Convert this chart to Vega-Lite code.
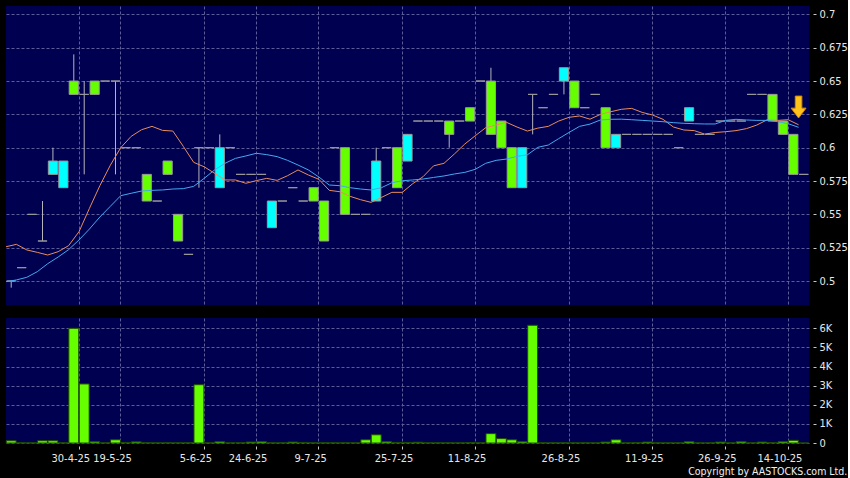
{
  "$schema": "https://vega.github.io/schema/vega-lite/v6.json",
  "background": "#000000",
  "padding": {"left": 4, "top": 6, "right": 0, "bottom": 0},
  "spacing": 13,
  "config": {
    "view": {"fill": "#000050", "stroke": null},
    "font": "DejaVu Sans Condensed, DejaVu Sans",
    "axis": {
      "labelColor": "#e8e8e8",
      "labelFont": "DejaVu Sans Condensed, DejaVu Sans",
      "tickColor": "#c8c8c8",
      "domain": false,
      "title": null,
      "gridColor": "#5c5c98",
      "gridDash": [3, 2],
      "gridWidth": 1,
      "labelOverlap": false
    }
  },
  "title": {
    "text": "Copyright by AASTOCKS.com Ltd.",
    "orient": "bottom",
    "anchor": "end",
    "fontSize": 10.5,
    "fontWeight": "normal",
    "font": "DejaVu Sans Condensed, DejaVu Sans",
    "color": "#f0f0f0",
    "offset": 4
  },
  "datasets": {
    "candles": [
      {"d": "15-4-25", "o": 0.50, "h": 0.50, "l": 0.495, "c": 0.50, "v": 120, "m1": 0.5257, "m2": 0.4995},
      {"d": "16-4-25", "o": 0.51, "h": 0.51, "l": 0.51, "c": 0.51, "v": 10, "m1": 0.5275, "m2": 0.5008},
      {"d": "22-4-25", "o": 0.55, "h": 0.55, "l": 0.55, "c": 0.55, "v": 10, "m1": 0.5233, "m2": 0.5028},
      {"d": "24-4-25", "o": 0.53, "h": 0.56, "l": 0.53, "c": 0.53, "v": 120, "m1": 0.5215, "m2": 0.507},
      {"d": "25-4-25", "o": 0.58, "h": 0.60, "l": 0.58, "c": 0.59, "v": 120, "m1": 0.5195, "m2": 0.513},
      {"d": "29-4-25", "o": 0.57, "h": 0.59, "l": 0.57, "c": 0.59, "v": 10, "m1": 0.522, "m2": 0.518},
      {"d": "30-4-25", "o": 0.65, "h": 0.67, "l": 0.64, "c": 0.64, "v": 6000, "m1": 0.5265, "m2": 0.5235},
      {"d": "2-5-25", "o": 0.64, "h": 0.65, "l": 0.58, "c": 0.64, "v": 3090, "m1": 0.537, "m2": 0.5308},
      {"d": "6-5-25", "o": 0.65, "h": 0.65, "l": 0.64, "c": 0.64, "v": 70, "m1": 0.5545, "m2": 0.539},
      {"d": "12-5-25", "o": 0.65, "h": 0.65, "l": 0.65, "c": 0.65, "v": 10, "m1": 0.5715, "m2": 0.548},
      {"d": "19-5-25", "o": 0.65, "h": 0.65, "l": 0.58, "c": 0.65, "v": 170, "m1": 0.5868, "m2": 0.556},
      {"d": "20-5-25", "o": 0.60, "h": 0.60, "l": 0.60, "c": 0.60, "v": 30, "m1": 0.600, "m2": 0.564},
      {"d": "21-5-25", "o": 0.60, "h": 0.60, "l": 0.60, "c": 0.60, "v": 60, "m1": 0.6085, "m2": 0.5658},
      {"d": "22-5-25", "o": 0.58, "h": 0.58, "l": 0.56, "c": 0.56, "v": 10, "m1": 0.6135, "m2": 0.5675},
      {"d": "26-5-25", "o": 0.56, "h": 0.56, "l": 0.56, "c": 0.56, "v": 10, "m1": 0.616, "m2": 0.568},
      {"d": "27-5-25", "o": 0.59, "h": 0.59, "l": 0.58, "c": 0.58, "v": 10, "m1": 0.613, "m2": 0.5683},
      {"d": "29-5-25", "o": 0.55, "h": 0.55, "l": 0.53, "c": 0.53, "v": 10, "m1": 0.6125, "m2": 0.569},
      {"d": "3-6-25", "o": 0.52, "h": 0.52, "l": 0.52, "c": 0.52, "v": 10, "m1": 0.601, "m2": 0.5693},
      {"d": "5-6-25", "o": 0.60, "h": 0.60, "l": 0.57, "c": 0.60, "v": 3050, "m1": 0.589, "m2": 0.571},
      {"d": "9-6-25", "o": 0.60, "h": 0.60, "l": 0.60, "c": 0.60, "v": 10, "m1": 0.5857, "m2": 0.577},
      {"d": "11-6-25", "o": 0.57, "h": 0.61, "l": 0.57, "c": 0.60, "v": 70, "m1": 0.5808, "m2": 0.5833},
      {"d": "16-6-25", "o": 0.60, "h": 0.60, "l": 0.60, "c": 0.60, "v": 10, "m1": 0.5758, "m2": 0.5883},
      {"d": "18-6-25", "o": 0.58, "h": 0.58, "l": 0.58, "c": 0.58, "v": 10, "m1": 0.5758, "m2": 0.592},
      {"d": "24-6-25", "o": 0.58, "h": 0.58, "l": 0.58, "c": 0.58, "v": 50, "m1": 0.5733, "m2": 0.5938},
      {"d": "26-6-25", "o": 0.58, "h": 0.58, "l": 0.58, "c": 0.58, "v": 70, "m1": 0.5753, "m2": 0.5958},
      {"d": "27-6-25", "o": 0.54, "h": 0.56, "l": 0.54, "c": 0.56, "v": 10, "m1": 0.577, "m2": 0.5948},
      {"d": "30-6-25", "o": 0.56, "h": 0.56, "l": 0.56, "c": 0.56, "v": 10, "m1": 0.5755, "m2": 0.5933},
      {"d": "3-7-25", "o": 0.57, "h": 0.57, "l": 0.57, "c": 0.57, "v": 50, "m1": 0.579, "m2": 0.5905},
      {"d": "7-7-25", "o": 0.56, "h": 0.56, "l": 0.56, "c": 0.56, "v": 30, "m1": 0.5833, "m2": 0.587},
      {"d": "9-7-25", "o": 0.57, "h": 0.57, "l": 0.56, "c": 0.56, "v": 10, "m1": 0.5795, "m2": 0.5833},
      {"d": "10-7-25", "o": 0.56, "h": 0.56, "l": 0.53, "c": 0.53, "v": 10, "m1": 0.5763, "m2": 0.578},
      {"d": "11-7-25", "o": 0.60, "h": 0.60, "l": 0.60, "c": 0.60, "v": 10, "m1": 0.568, "m2": 0.572},
      {"d": "14-7-25", "o": 0.60, "h": 0.60, "l": 0.55, "c": 0.55, "v": 10, "m1": 0.567, "m2": 0.5715},
      {"d": "16-7-25", "o": 0.55, "h": 0.55, "l": 0.55, "c": 0.55, "v": 10, "m1": 0.5635, "m2": 0.570},
      {"d": "18-7-25", "o": 0.55, "h": 0.55, "l": 0.55, "c": 0.55, "v": 170, "m1": 0.561, "m2": 0.569},
      {"d": "22-7-25", "o": 0.56, "h": 0.60, "l": 0.56, "c": 0.59, "v": 430, "m1": 0.559, "m2": 0.5683},
      {"d": "23-7-25", "o": 0.60, "h": 0.60, "l": 0.60, "c": 0.60, "v": 70, "m1": 0.5627, "m2": 0.570},
      {"d": "25-7-25", "o": 0.60, "h": 0.60, "l": 0.57, "c": 0.57, "v": 30, "m1": 0.5665, "m2": 0.5737},
      {"d": "28-7-25", "o": 0.59, "h": 0.61, "l": 0.59, "c": 0.61, "v": 30, "m1": 0.5665, "m2": 0.5752},
      {"d": "30-7-25", "o": 0.62, "h": 0.62, "l": 0.62, "c": 0.62, "v": 40, "m1": 0.573, "m2": 0.5758},
      {"d": "1-8-25", "o": 0.62, "h": 0.62, "l": 0.62, "c": 0.62, "v": 10, "m1": 0.5783, "m2": 0.5765},
      {"d": "4-8-25", "o": 0.62, "h": 0.62, "l": 0.62, "c": 0.62, "v": 10, "m1": 0.5864, "m2": 0.5777},
      {"d": "6-8-25", "o": 0.62, "h": 0.62, "l": 0.60, "c": 0.61, "v": 10, "m1": 0.5883, "m2": 0.5788},
      {"d": "8-8-25", "o": 0.62, "h": 0.62, "l": 0.62, "c": 0.62, "v": 10, "m1": 0.5953, "m2": 0.5803},
      {"d": "11-8-25", "o": 0.63, "h": 0.63, "l": 0.62, "c": 0.62, "v": 20, "m1": 0.6028, "m2": 0.5815},
      {"d": "12-8-25", "o": 0.65, "h": 0.65, "l": 0.65, "c": 0.65, "v": 10, "m1": 0.609, "m2": 0.5838},
      {"d": "13-8-25", "o": 0.65, "h": 0.66, "l": 0.61, "c": 0.61, "v": 490, "m1": 0.615, "m2": 0.5883},
      {"d": "14-8-25", "o": 0.62, "h": 0.62, "l": 0.60, "c": 0.60, "v": 230, "m1": 0.617, "m2": 0.5905},
      {"d": "15-8-25", "o": 0.60, "h": 0.60, "l": 0.57, "c": 0.57, "v": 170, "m1": 0.619, "m2": 0.5915},
      {"d": "18-8-25", "o": 0.57, "h": 0.60, "l": 0.57, "c": 0.60, "v": 70, "m1": 0.6155, "m2": 0.5935},
      {"d": "19-8-25", "o": 0.64, "h": 0.64, "l": 0.61, "c": 0.64, "v": 6160, "m1": 0.6125, "m2": 0.5947},
      {"d": "21-8-25", "o": 0.63, "h": 0.63, "l": 0.63, "c": 0.63, "v": 10, "m1": 0.6147, "m2": 0.6003},
      {"d": "22-8-25", "o": 0.64, "h": 0.64, "l": 0.64, "c": 0.64, "v": 10, "m1": 0.616, "m2": 0.602},
      {"d": "26-8-25", "o": 0.65, "h": 0.66, "l": 0.64, "c": 0.66, "v": 10, "m1": 0.620, "m2": 0.6068},
      {"d": "27-8-25", "o": 0.65, "h": 0.65, "l": 0.63, "c": 0.63, "v": 10, "m1": 0.6228, "m2": 0.6115},
      {"d": "29-8-25", "o": 0.63, "h": 0.63, "l": 0.63, "c": 0.63, "v": 10, "m1": 0.6238, "m2": 0.616},
      {"d": "1-9-25", "o": 0.64, "h": 0.64, "l": 0.64, "c": 0.64, "v": 10, "m1": 0.6214, "m2": 0.6177},
      {"d": "3-9-25", "o": 0.63, "h": 0.63, "l": 0.60, "c": 0.60, "v": 50, "m1": 0.625, "m2": 0.6208},
      {"d": "4-9-25", "o": 0.60, "h": 0.61, "l": 0.60, "c": 0.61, "v": 170, "m1": 0.627, "m2": 0.6213},
      {"d": "8-9-25", "o": 0.61, "h": 0.61, "l": 0.61, "c": 0.61, "v": 10, "m1": 0.6288, "m2": 0.6214},
      {"d": "9-9-25", "o": 0.61, "h": 0.61, "l": 0.61, "c": 0.61, "v": 20, "m1": 0.6295, "m2": 0.621},
      {"d": "11-9-25", "o": 0.61, "h": 0.61, "l": 0.61, "c": 0.61, "v": 50, "m1": 0.6265, "m2": 0.6205},
      {"d": "12-9-25", "o": 0.61, "h": 0.61, "l": 0.61, "c": 0.61, "v": 10, "m1": 0.6245, "m2": 0.620},
      {"d": "16-9-25", "o": 0.61, "h": 0.61, "l": 0.61, "c": 0.61, "v": 10, "m1": 0.6213, "m2": 0.6195},
      {"d": "18-9-25", "o": 0.60, "h": 0.60, "l": 0.60, "c": 0.60, "v": 10, "m1": 0.6155, "m2": 0.6188},
      {"d": "19-9-25", "o": 0.62, "h": 0.63, "l": 0.62, "c": 0.63, "v": 70, "m1": 0.6133, "m2": 0.6183},
      {"d": "23-9-25", "o": 0.61, "h": 0.61, "l": 0.61, "c": 0.61, "v": 10, "m1": 0.6128, "m2": 0.618},
      {"d": "25-9-25", "o": 0.61, "h": 0.61, "l": 0.61, "c": 0.61, "v": 10, "m1": 0.6102, "m2": 0.6178},
      {"d": "26-9-25", "o": 0.62, "h": 0.62, "l": 0.62, "c": 0.62, "v": 50, "m1": 0.6114, "m2": 0.6178},
      {"d": "29-9-25", "o": 0.62, "h": 0.62, "l": 0.62, "c": 0.62, "v": 10, "m1": 0.612, "m2": 0.6205},
      {"d": "30-9-25", "o": 0.62, "h": 0.62, "l": 0.62, "c": 0.62, "v": 70, "m1": 0.6128, "m2": 0.6213},
      {"d": "3-10-25", "o": 0.64, "h": 0.64, "l": 0.64, "c": 0.64, "v": 10, "m1": 0.6143, "m2": 0.6208},
      {"d": "8-10-25", "o": 0.64, "h": 0.64, "l": 0.64, "c": 0.64, "v": 50, "m1": 0.617, "m2": 0.6205},
      {"d": "10-10-25", "o": 0.64, "h": 0.64, "l": 0.62, "c": 0.62, "v": 20, "m1": 0.621, "m2": 0.6205},
      {"d": "14-10-25", "o": 0.62, "h": 0.62, "l": 0.61, "c": 0.61, "v": 70, "m1": 0.6205, "m2": 0.6195},
      {"d": "15-10-25", "o": 0.61, "h": 0.61, "l": 0.58, "c": 0.58, "v": 140, "m1": 0.621, "m2": 0.618},
      {"d": "16-10-25", "o": 0.58, "h": 0.58, "l": 0.58, "c": 0.58, "v": 0, "m1": 0.6172, "m2": 0.6153}
    ],
    "signal": [
      {"d": "16-10-25", "p": 0.6305}
    ]
  },
  "vconcat": [
    {
      "width": 803,
      "height": 299,
      "data": {"name": "candles"},
      "encoding": {
        "x": {
          "field": "d",
          "type": "ordinal",
          "sort": null,
          "scale": {"paddingInner": 0, "paddingOuter": 0},
          "axis": {
            "values": ["30-4-25", "19-5-25", "5-6-25", "24-6-25", "9-7-25", "25-7-25", "11-8-25", "26-8-25", "11-9-25", "26-9-25", "14-10-25"],
            "bandPosition": 1,
            "grid": true,
            "labels": false,
            "ticks": false,
            "domain": false
          }
        }
      },
      "layer": [
        {
          "mark": {"type": "rule", "color": "#b4b4bc", "strokeWidth": 1},
          "encoding": {
            "y": {
              "field": "l",
              "type": "quantitative",
              "scale": {"domain": [0.482, 0.7063], "nice": false, "zero": false},
              "axis": {
                "orient": "right",
                "values": [0.5, 0.525, 0.55, 0.575, 0.6, 0.625, 0.65, 0.675, 0.7],
                "labelExpr": "format(datum.value, '.3~f')",
                "grid": true,
                "offset": 4,
                "tickSize": 3,
                "labelPadding": 3,
                "labelFontSize": 11,
                "labelOverlap": false,
                "labelFlush": false
              }
            },
            "y2": {"field": "h"}
          }
        },
        {
          "mark": {"type": "bar", "width": {"band": 0.88}, "stroke": "#9a9a9a", "strokeWidth": 1},
          "encoding": {
            "y": {
              "field": "o",
              "type": "quantitative",
              "axis": {
                "orient": "right",
                "values": [0.5, 0.525, 0.55, 0.575, 0.6, 0.625, 0.65, 0.675, 0.7],
                "labelExpr": "format(datum.value, '.3~f')",
                "grid": true,
                "offset": 4,
                "tickSize": 3,
                "labelPadding": 3,
                "labelFontSize": 11,
                "labelOverlap": false,
                "labelFlush": false
              }
            },
            "y2": {"field": "c"},
            "fill": {
              "condition": {"test": "datum.c > datum.o", "value": "#00ffff"},
              "value": "#66ff00"
            }
          }
        },
        {
          "mark": {"type": "line", "color": "#e98c5c", "strokeWidth": 1},
          "encoding": {
            "x": {"field": "d", "type": "ordinal", "sort": null, "bandPosition": 0},
            "y": {
              "field": "m1",
              "type": "quantitative",
              "axis": {
                "orient": "right",
                "values": [0.5, 0.525, 0.55, 0.575, 0.6, 0.625, 0.65, 0.675, 0.7],
                "labelExpr": "format(datum.value, '.3~f')",
                "grid": true,
                "offset": 4,
                "tickSize": 3,
                "labelPadding": 3,
                "labelFontSize": 11,
                "labelOverlap": false,
                "labelFlush": false
              }
            }
          }
        },
        {
          "mark": {"type": "line", "color": "#45a8f0", "strokeWidth": 1},
          "encoding": {
            "x": {"field": "d", "type": "ordinal", "sort": null, "bandPosition": 0},
            "y": {
              "field": "m2",
              "type": "quantitative",
              "axis": {
                "orient": "right",
                "values": [0.5, 0.525, 0.55, 0.575, 0.6, 0.625, 0.65, 0.675, 0.7],
                "labelExpr": "format(datum.value, '.3~f')",
                "grid": true,
                "offset": 4,
                "tickSize": 3,
                "labelPadding": 3,
                "labelFontSize": 11,
                "labelOverlap": false,
                "labelFlush": false
              }
            }
          }
        },
        {
          "data": {"name": "signal"},
          "mark": {
            "type": "point",
            "shape": "M-0.3,-1L0.3,-1L0.3,0.1L0.68,0.1L0,1L-0.68,0.1L-0.3,0.1Z",
            "size": 480,
            "filled": true,
            "fill": "#ffc21a",
            "stroke": "#d98a00",
            "strokeWidth": 1,
            "opacity": 1
          },
          "encoding": {
            "x": {"field": "d", "type": "ordinal", "sort": null, "bandPosition": 0},
            "y": {
              "field": "p",
              "type": "quantitative",
              "axis": {
                "orient": "right",
                "values": [0.5, 0.525, 0.55, 0.575, 0.6, 0.625, 0.65, 0.675, 0.7],
                "labelExpr": "format(datum.value, '.3~f')",
                "grid": true,
                "offset": 4,
                "tickSize": 3,
                "labelPadding": 3,
                "labelFontSize": 11,
                "labelOverlap": false,
                "labelFlush": false
              }
            }
          }
        }
      ]
    },
    {
      "width": 803,
      "height": 125,
      "data": {"name": "candles"},
      "mark": {"type": "bar", "width": {"band": 0.95}, "fill": "#66ff00", "stroke": "#1e4a00", "strokeWidth": 1},
      "encoding": {
        "x": {
          "field": "d",
          "type": "ordinal",
          "sort": null,
          "scale": {"paddingInner": 0, "paddingOuter": 0},
          "axis": {
            "values": ["30-4-25", "19-5-25", "5-6-25", "24-6-25", "9-7-25", "25-7-25", "11-8-25", "26-8-25", "11-9-25", "26-9-25", "14-10-25"],
            "bandPosition": 1,
            "grid": true,
            "labelAngle": 0,
            "labelOverlap": false,
            "labelFlush": false,
            "labelOffset": -3,
            "labelFontSize": 11,
            "labelPadding": 3,
            "ticks": true,
            "tickSize": 3,
            "offset": 3
          }
        },
        "y": {
          "field": "v",
          "type": "quantitative",
          "scale": {"domain": [0, 6540], "nice": false},
          "axis": {
            "orient": "right",
            "values": [0, 1000, 2000, 3000, 4000, 5000, 6000],
            "labelExpr": "datum.value === 0 ? '0' : (datum.value / 1000) + 'K'",
            "grid": true,
            "offset": 4,
            "tickSize": 3,
            "labelPadding": 3,
            "labelFontSize": 11,
            "labelOverlap": false,
            "labelFlush": false
          }
        }
      }
    }
  ]
}
